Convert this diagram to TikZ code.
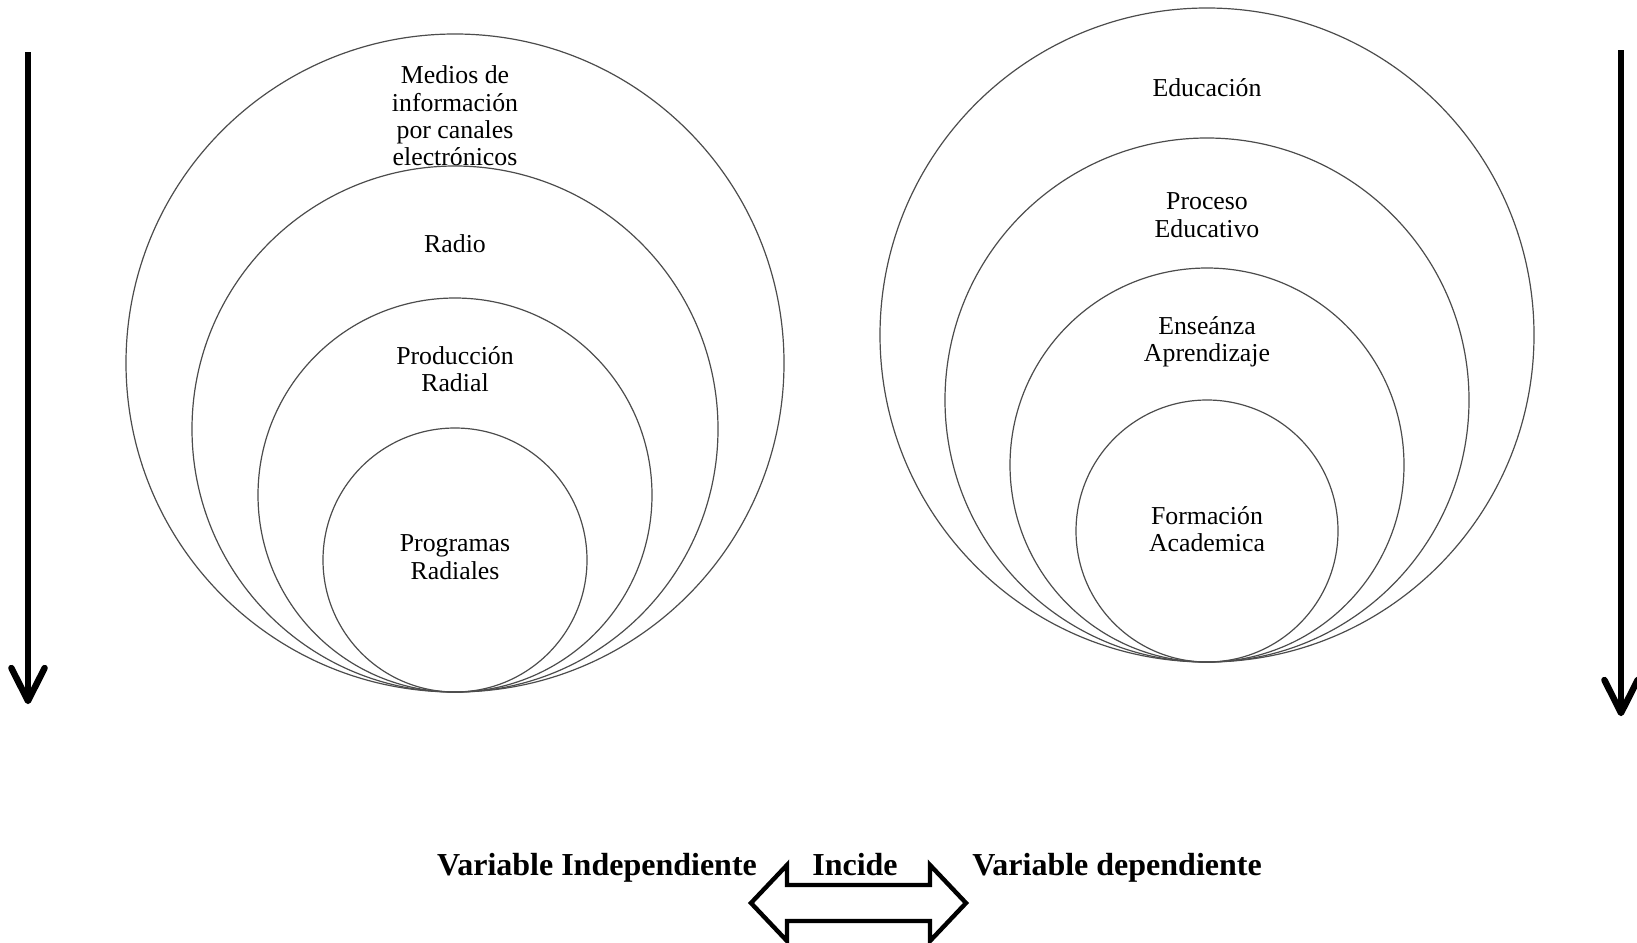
\documentclass[tikz,border=0pt]{standalone}
\usepackage{fontspec}
\setmainfont{Liberation Serif}
\begin{document}
\begin{tikzpicture}[x=0.5pt,y=-0.5pt,
  ring/.style={draw=black!70, line width=0.6pt},
  lbl/.style={align=center, inner sep=0pt, font=\fontsize{12.9}{13.7}\selectfont},
  blbl/.style={inner sep=0pt, anchor=base, font=\fontsize{16}{18}\selectfont\bfseries},
  shaft/.style={line width=2.6pt},
  barb/.style={line width=3.2pt, line cap=round, line join=round},
  dblarrow/.style={line width=2.2pt, line join=miter}]
\useasboundingbox (0,0) rectangle (1637,942);
% left nested circles
\coordinate (L1) at (455,363);
\coordinate (L2) at (455,429);
\coordinate (L3) at (455,495);
\coordinate (L4) at (455,560);
\draw[ring] (L1) circle[radius=164.5pt];
\draw[ring] (L2) circle[radius=131.5pt];
\draw[ring] (L3) circle[radius=98.5pt];
\draw[ring] (L4) circle[radius=66pt];
% right nested circles
\coordinate (R1) at (1207,335);
\coordinate (R2) at (1207,400);
\coordinate (R3) at (1207,465);
\coordinate (R4) at (1207,531);
\draw[ring] (R1) circle[radius=163.5pt];
\draw[ring] (R2) circle[radius=131pt];
\draw[ring] (R3) circle[radius=98.5pt];
\draw[ring] (R4) circle[radius=65.5pt];
% labels
\node[lbl] (medios) at (455,116) {Medios de\\información\\por canales\\electrónicos};
\node[lbl] (radio) at (455,244) {Radio};
\node[lbl] (prod) at (455,369) {Producción\\Radial};
\node[lbl] (prog) at (455,557) {Programas\\Radiales};
\node[lbl] (edu) at (1207,88) {Educación};
\node[lbl] (proc) at (1207,215) {Proceso\\Educativo};
\node[lbl] (ens) at (1207,342) {Enseánza\\Aprendizaje};
\node[lbl] (form) at (1207,529) {Formación\\Academica};
% vertical arrows
\coordinate (la0) at (28,52);
\coordinate (la1) at (28,701);
\draw[shaft] (la0) -- (la1);
\draw[barb] ([xshift=-8.3pt,yshift=16.5pt]la1) -- (la1) -- ([xshift=8.3pt,yshift=16.5pt]la1);
\coordinate (ra0) at (1621,50);
\coordinate (ra1) at (1621,713);
\draw[shaft] (ra0) -- (ra1);
\draw[barb] ([xshift=-8.3pt,yshift=16.5pt]ra1) -- (ra1) -- ([xshift=8.3pt,yshift=16.5pt]ra1);
% bottom labels
\node[blbl] (vi) at (597,875) {Variable Independiente};
\node[blbl] (inc) at (855,875) {Incide};
\node[blbl] (vd) at (1117,875) {Variable dependiente};
% double arrow
\draw[dblarrow] (751,903) -- (787,865) -- (787,885) -- (930,885) -- (930,865)
  -- (966,903) -- (930,941) -- (930,921) -- (787,921) -- (787,941) -- cycle;
\end{tikzpicture}
\end{document}
